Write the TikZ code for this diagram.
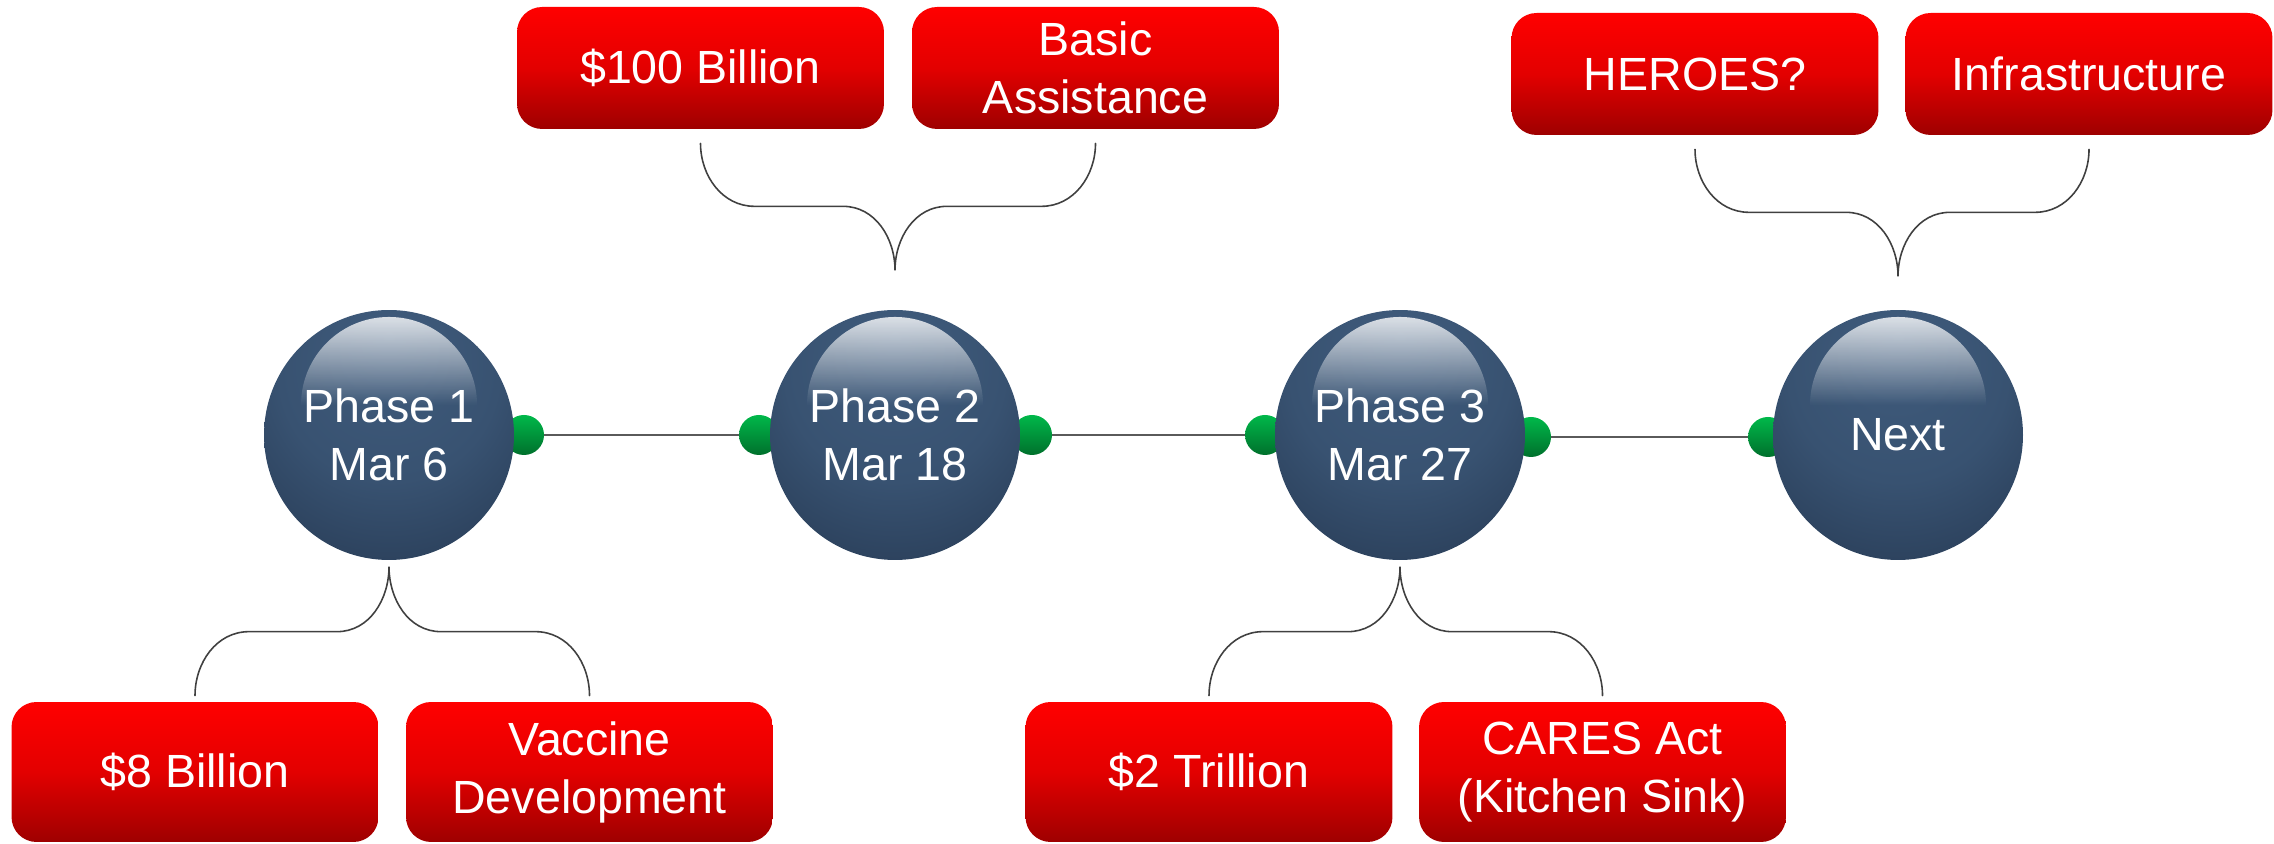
\documentclass[tikz,border=0pt]{standalone}
\usepackage{fontspec}
\setmainfont{Liberation Sans}
\usepackage{tikz}
\usetikzlibrary{calc,fadings,positioning}
\definecolor{navylight}{HTML}{405C7D}
\definecolor{navymid}{HTML}{385271}
\definecolor{navydeep}{HTML}{2B405B}
\definecolor{navydark}{HTML}{18202E}
\definecolor{redtop}{HTML}{FF0000}
\definecolor{redmid}{HTML}{E30000}
\definecolor{redbot}{HTML}{9E0000}
\definecolor{greentop}{HTML}{00B84A}
\definecolor{greenbot}{HTML}{00702C}
\definecolor{wire}{HTML}{5A5A5A}
\definecolor{bracecol}{HTML}{404040}
\pgfdeclareradialshading{phaseball}{\pgfpoint{0bp}{20bp}}{%
  color(0bp)=(navylight); color(22bp)=(navymid); color(36bp)=(navydeep);
  color(45bp)=(navydeep!55!navydark); color(50bp)=(navydark); color(60bp)=(navydark)}
\tikzfading[name=glossfade, top color=transparent!10, bottom color=transparent!100]
\tikzset{
  phase/.style={circle, minimum size=5cm, inner sep=0pt, shade, shading=phaseball,
    text=white, font=\fontsize{26.5}{33}\selectfont, align=center},
  card/.style={rounded corners=0.5cm, minimum width=7.34cm, inner sep=0pt,
    top color=redtop, bottom color=redbot, middle color=redmid,
    text=white, font=\fontsize{26.5}{33}\selectfont, align=center},
  lowcard/.style={card, minimum height=2.8cm},
  highcard/.style={card, minimum height=2.44cm},
  dot/.style={circle, minimum size=0.8cm, inner sep=0pt, top color=greentop, bottom color=greenbot},
  wire/.style={draw=wire, line width=1.1pt},
  brace/.style={draw=bracecol, line width=0.9pt, line cap=round},
  gloss/.style={fill=white, opacity=0.9, path fading=glossfade},
}
% curly brace from a phase down to two cards
\newcommand{\bracebelow}[3]{%
  \draw[brace] ($(#2.north)+(0,6)$) to[out=90,in=180] ($(#2.north)+(54,70)$)
    -- ($(#1.south |- #2.north)+(-52,70)$) to[out=0,in=-90] ($(#1.south |- #2.north)+(0,135)$)
    to[out=-90,in=180] ($(#1.south |- #2.north)+(52,70)$)
    -- ($(#3.north)+(-54,70)$) to[out=0,in=90] ($(#3.north)+(0,6)$);}
% curly brace from a phase up to two cards
\newcommand{\braceabove}[3]{%
  \draw[brace] ($(#2.south)+(0,-14)$) to[out=-90,in=180] ($(#2.south)+(54,-77)$)
    -- ($(#1.north |- #2.south)+(-52,-77)$) to[out=0,in=90] ($(#1.north |- #2.south)+(0,-141)$)
    to[out=90,in=180] ($(#1.north |- #2.south)+(52,-77)$)
    -- ($(#3.south)+(-54,-77)$) to[out=0,in=-90] ($(#3.south)+(0,-14)$);}

\begin{document}
\begin{tikzpicture}[x=0.02cm, y=0.02cm]
  \useasboundingbox (0,0) rectangle (2274,844);
  \coordinate (P1) at (389,409);
  \coordinate (P2) at (895,409);
  \coordinate (P3) at (1400,409);
  \coordinate (P4) at (1898,409);

  % green joints, half hidden behind the phases
  \node[dot] (d1r) at ($(P1)+(135,0)$) {};
  \node[dot] (d2l) at ($(P2)+(-136,0)$) {};
  \node[dot] (d2r) at ($(P2)+(137,0)$) {};
  \node[dot] (d3l) at ($(P3)+(-135,0)$) {};
  \node[dot] (d3r) at ($(P3)+(131,-2)$) {};
  \node[dot] (d4l) at ($(P4)+(-130,-2)$) {};
  \draw[wire] (d1r) -- (d2l);
  \draw[wire] (d2r) -- (d3l);
  \draw[wire] (d3r) -- (d4l);

  % the phases
  \node[phase] (ph1) at (P1) {Phase 1\\Mar 6};
  \node[phase] (ph2) at (P2) {Phase 2\\Mar 18};
  \node[phase] (ph3) at (P3) {Phase 3\\Mar 27};
  \node[phase] (nxt) at (P4) {Next};
  \foreach \p in {P1,P2,P3,P4}
    \fill[gloss] ($(\p)+(-88,30)$) arc[start angle=180, end angle=0, radius=88] -- cycle;

  % cards
  \node[lowcard] (bil8) at (195,72) {\$8 Billion};
  \node[lowcard] (vacc) at (589.5,72) {Vaccine\\Development};
  \node[highcard] (bil100) at (700.5,776) {\$100 Billion};
  \node[highcard] (basic) at (1095.5,776) {Basic\\Assistance};
  \node[lowcard] (tril2) at (1209,72) {\$2 Trillion};
  \node[lowcard] (cares) at (1602.5,72) {CARES Act\\(Kitchen Sink)};
  \node[highcard] (heroes) at (1695,770) {HEROES?};
  \node[highcard] (infra) at (2089,770) {Infrastructure};

  \bracebelow{ph1}{bil8}{vacc}
  \braceabove{ph2}{bil100}{basic}
  \bracebelow{ph3}{tril2}{cares}
  \braceabove{nxt}{heroes}{infra}
\end{tikzpicture}
\end{document}
